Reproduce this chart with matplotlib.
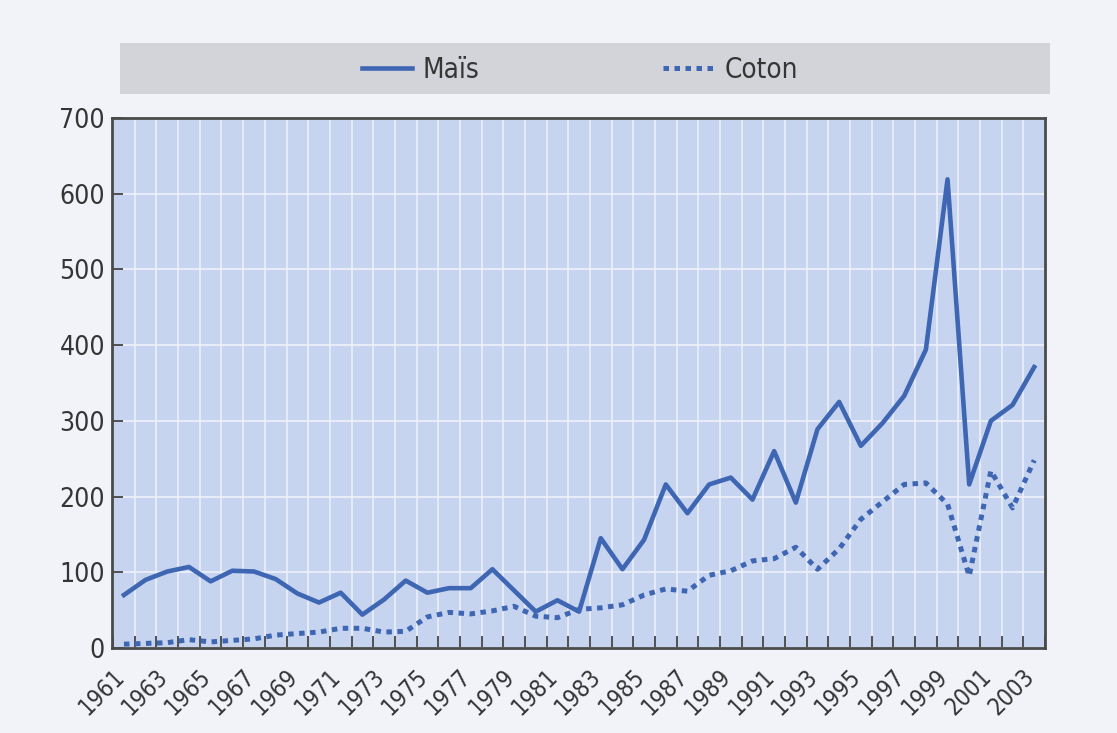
# Production Maïs / Coton 1961-2003
import matplotlib
matplotlib.use('Agg')
import matplotlib.pyplot as plt
import numpy as np
from matplotlib.patches import Rectangle

plt.rcParams['font.family'] = ['Liberation Sans Narrow', 'DejaVu Sans']
plt.rcParams['font.stretch'] = 'condensed'

# données
years = list(range(1961, 2004))
mais = [70, 90, 101, 107, 88, 102, 101, 91, 72, 60, 73, 44,
        64, 89, 73, 79, 79, 104, 76, 48, 63, 48,
        145, 104, 143, 216, 178, 216, 225, 196, 260, 192,
        289, 325, 267, 297, 333, 394, 619, 216, 300, 321, 371]
coton = [5, 6, 7, 11, 8, 10, 12, 17, 19, 21, 26, 26,
         21, 22, 41, 47, 45, 49, 55, 42, 40, 51,
         53, 57, 70, 78, 75, 96, 102, 115, 118, 133,
         104, 131, 170, 193, 216, 218, 190, 95, 234, 185, 248]
tick_years = years[::2]
y_ticks = [0, 100, 200, 300, 400, 500, 600, 700]

line_color = '#3e66b3'
text_color = '#353535'

fig = plt.figure(figsize=(11.17, 7.33), dpi=100)
fig.patch.set_facecolor('#f1f3f9')

# bandeau gris de la légende (sous les axes et la légende)
band = Rectangle((0.107, 0.872), 0.833, 0.07, transform=fig.transFigure,
                 facecolor='#d3d4da', edgecolor='none', zorder=-1)
fig.patches.append(band)

ax = fig.add_axes([0.1003, 0.116, 0.8353, 0.723])
ax.set_facecolor('#c6d4ef')

ax.plot(years, mais, color=line_color, lw=3.3, label='Maïs', zorder=3)
ax.plot(years, coton, color=line_color, lw=3.6, linestyle=(0, (1.1, 1.1)),
        label='Coton', zorder=3)

ax.set_xlim(1960.5, 2003.5)
ax.set_ylim(0, 700)

# axe x : graduations entre catégories, étiquettes une année sur deux
# (étiquettes décalées vers la gauche comme dans l'original)
ax.set_xticks([y - 0.55 for y in tick_years])
ax.set_xticklabels([str(y) for y in tick_years], rotation=45, ha='right',
                   va='top', rotation_mode='anchor')
ax.set_xticks(np.arange(1960.5, 2004, 1), minor=True)
ax.tick_params(axis='x', which='major', length=0, pad=12, labelsize=17,
               labelcolor=text_color)
ax.tick_params(axis='x', which='minor', direction='in', length=9, width=1.3,
               color='#444444')

ax.set_yticks(y_ticks)
ax.tick_params(axis='y', direction='in', length=8, width=1.3, color='#444444',
               pad=5, labelsize=19, labelcolor=text_color)

ax.grid(which='minor', axis='x', color='#eef2fb', lw=1.1)
ax.grid(which='major', axis='y', color='#eef2fb', lw=1.2)
ax.set_axisbelow(True)

for spine in ax.spines.values():
    spine.set_color('#4a4a4a')
    spine.set_linewidth(2)

leg = ax.legend(loc='center', bbox_to_anchor=(0.519, 0.905),
                bbox_transform=fig.transFigure, ncol=2, frameon=False,
                fontsize=20, handlelength=1.8, columnspacing=6.6,
                handletextpad=0.4)
for t in leg.get_texts():
    t.set_color(text_color)

fig.savefig('out.png', dpi=100, facecolor=fig.get_facecolor())
